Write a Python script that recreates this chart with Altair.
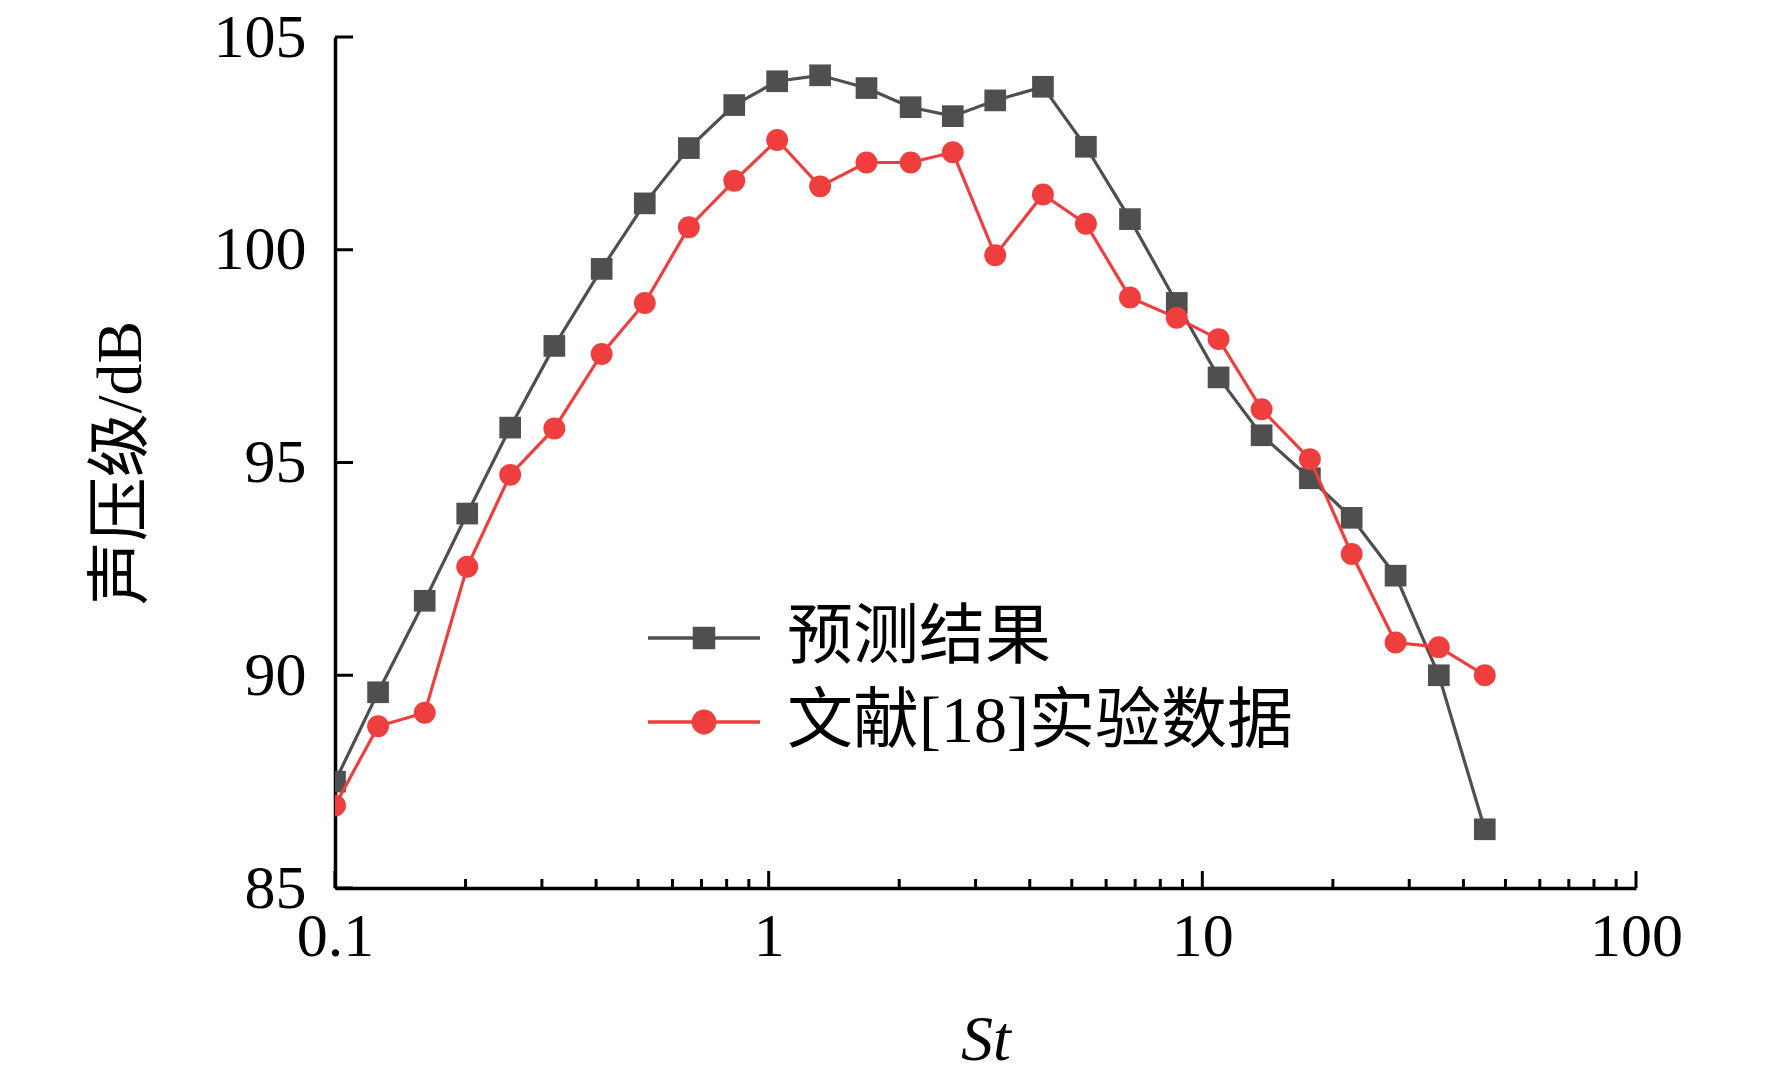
import altair as alt
import pandas as pd

# ---- data ----
st = [0.1, 0.1257, 0.161, 0.2018, 0.2535, 0.3205, 0.412, 0.518, 0.6546, 0.833,
      1.046, 1.314, 1.681, 2.125, 2.658, 3.33, 4.29, 5.39, 6.81, 8.73,
      10.9, 13.7, 17.7, 22.1, 27.9, 35.1, 44.8]
pred = [87.5, 89.6, 91.75, 93.8, 95.82, 97.74, 99.55, 101.09, 102.39, 103.40,
        103.96, 104.10, 103.80, 103.35, 103.14, 103.51, 103.83, 102.42, 100.72, 98.75,
        97.0, 95.64, 94.63, 93.70, 92.34, 90.0, 86.38]
expt = [86.94, 88.8, 89.12, 92.55, 94.71, 95.8, 97.55, 98.75, 100.53, 101.62,
        102.58, 101.49, 102.05, 102.05, 102.29, 99.87, 101.30, 100.61, 98.88, 98.40,
        97.90, 96.25, 95.08, 92.85, 90.77, 90.66, 90.0]
series_names = ["预测结果", "文献[18]实验数据"]
colors = ["#4f4f4f", "#ef3e3e"]
x_major = [0.1, 1, 10, 100]
x_minor = [m * d for d in (0.1, 1, 10) for m in range(2, 10)]
y_ticks = [85, 90, 95, 100, 105]

W, H = 1301, 851
FONT = "Liberation Serif, Noto Sans CJK SC"

df_pred = pd.DataFrame({"St": st, "SPL": pred, "series": series_names[0]})
df_expt = pd.DataFrame({"St": st, "SPL": expt, "series": series_names[1]})
df_all = pd.concat([df_pred, df_expt], ignore_index=True)

xscale = alt.Scale(type="log", domain=[0.1, 100], nice=False)
yscale = alt.Scale(domain=[85, 105], nice=False, zero=False)
cscale = alt.Scale(domain=series_names, range=colors)

# legend symbols: a line with the marker in its middle
sq = "M-1,0L1,0M-0.17,-0.17L0.17,-0.17L0.17,0.17L-0.17,0.17Z"
ci = "M-1,0L1,0M-0.19,0A0.19,0.19,0,1,0,0.19,0A0.19,0.19,0,1,0,-0.19,0Z"
shscale = alt.Scale(domain=series_names, range=[sq, ci])

legend = alt.Legend(
    title=None, orient="none", legendX=311, legendY=559,
    symbolSize=12544, symbolStrokeWidth=3.5, symbolOpacity=1,
    labelFont=FONT, labelFontSize=66, labelColor="black", labelOffset=25,
    labelLimit=1000, rowPadding=0, clipHeight=84,
)

xenc = alt.X("St:Q", scale=xscale, axis=alt.Axis(
    values=x_major, format="~g", ticks=False, tickSize=0, grid=False,
    domainColor="black", domainWidth=3.5, labelFont=FONT, labelFontSize=62,
    labelColor="black", labelPadding=18, labelFlush=False, labelOverlap=False,
    title="St", titleFont="Liberation Serif", titleFontStyle="italic",
    titleFontWeight="normal", titleFontSize=64, titleColor="black",
    titleX=W / 2, titleY=152, titleBaseline="middle", titleAlign="center"))
yenc = alt.Y("SPL:Q", scale=yscale, axis=alt.Axis(
    values=y_ticks, ticks=False, tickSize=0, grid=False,
    domainColor="black", domainWidth=3.5, labelFont=FONT, labelFontSize=62,
    labelColor="black", labelPadding=29, labelFlush=False, labelOverlap=False,
    title="声压级/dB", titleFont=FONT, titleFontWeight="normal", titleFontSize=64,
    titleColor="black", titleX=-214, titleY=H / 2, titleAngle=-90,
    titleBaseline="middle", titleAlign="center"))


def layers(df, shape, size, color):
    line = alt.Chart(df).mark_line(strokeWidth=3.2, clip=True, color=color).encode(
        x=xenc, y=yenc)
    pts = alt.Chart(df).mark_point(shape=shape, filled=True, opacity=1, size=size,
                                   clip=True, color=color).encode(x=xenc, y=yenc)
    return [line, pts]


# invisible layer that only carries the legend
leg_layer = alt.Chart(df_all).mark_point(filled=False, opacity=0, size=10).encode(
    x=xenc, y=yenc,
    fill=alt.Fill("series:N", scale=cscale, legend=legend),
    stroke=alt.Stroke("series:N", scale=cscale, legend=legend),
    shape=alt.Shape("series:N", scale=shscale, legend=legend),
)

major_df = pd.DataFrame({"v": x_major})
minor_df = pd.DataFrame({"v": x_minor})
ytick_df = pd.DataFrame({"v": y_ticks})

xmaj = alt.Chart(major_df).mark_rule(color="black", strokeWidth=3).encode(
    x=alt.X("v:Q", scale=xscale), y=alt.value(H), y2=alt.value(H - 17))
xmin = alt.Chart(minor_df).mark_rule(color="black", strokeWidth=3).encode(
    x=alt.X("v:Q", scale=xscale), y=alt.value(H), y2=alt.value(H - 9))
ytk = alt.Chart(ytick_df).mark_rule(color="black", strokeWidth=3).encode(
    y=alt.Y("v:Q", scale=yscale), x=alt.value(0), x2=alt.value(18))

chart = alt.layer(
    xmaj, xmin, ytk,
    *layers(df_pred, "square", 470, colors[0]),
    *layers(df_expt, "circle", 480, colors[1]),
    leg_layer,
).properties(
    width=W, height=H,
    background="white",
    autosize=alt.AutoSizeParams(type="none"),
    padding={"left": 327, "top": 29, "right": 128, "bottom": 184},
).configure_view(stroke=None)

chart.save("out.html", embed_options={"renderer": "svg", "actions": False})
